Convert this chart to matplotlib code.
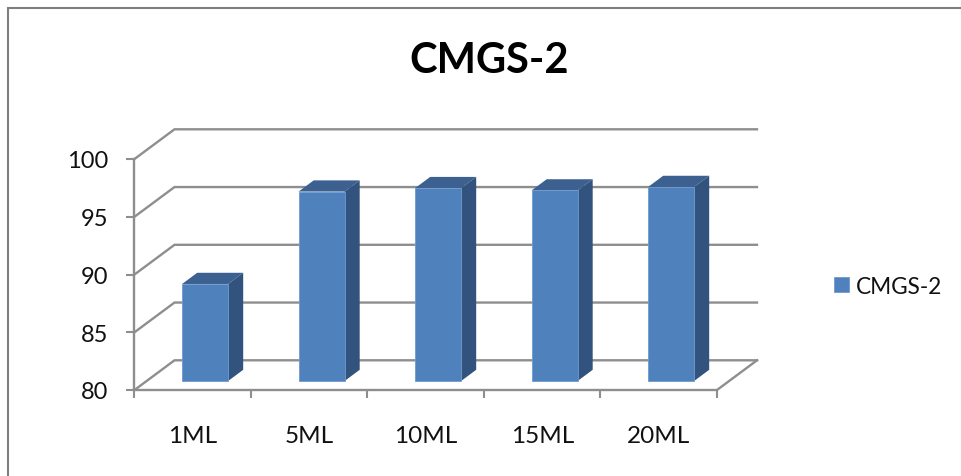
import matplotlib
matplotlib.use("Agg")
import matplotlib.pyplot as plt
from matplotlib.patches import Polygon, Patch
from matplotlib.lines import Line2D

# data
categories = ["1ML", "5ML", "10ML", "15ML", "20ML"]
values = [88.4, 96.4, 96.7, 96.5, 96.8]
yticks = [80, 85, 90, 95, 100]
series_name = "CMGS-2"

W, H = 962, 477
GREY = "#8e8e8e"
FRONT = "#4f81bd"
SIDE = "#31537d"
TOP = "#3c6090"
TXT = "#111111"

plt.rcParams["font.family"] = ["Lato", "DejaVu Sans"]

fig = plt.figure(figsize=(W / 100, H / 100), dpi=100)
# front plot area in pixels: x 135-717, y 160-391
ax = fig.add_axes([134.5 / W, 1 - 391 / H, (717 - 134.5) / W, (391 - 160) / H])
ax.set_xlim(-0.5, 4.5)
ax.set_ylim(80, 100)
ax.patch.set_alpha(0)

# depth of the fake 3d box, in data units
depth_x = 40 / 116.5
depth_y = 29.7 / 11.55

# walls
for t in yticks:
    ax.plot([-0.5, -0.5 + depth_x, 4.5 + depth_x],
            [t, t + depth_y, t + depth_y],
            color=GREY, lw=1.7, clip_on=False, zorder=1, solid_joinstyle="miter")
ax.plot([4.5, 4.5 + depth_x], [80, 80 + depth_y], color=GREY, lw=1.7, clip_on=False, zorder=1)

# bars
bar_w = 0.395
d0 = 0.303
d1 = 0.68
for i, v in enumerate(values):
    x0 = i - bar_w / 2 + d0 * depth_x + 0.002
    x1 = x0 + bar_w
    y0 = 80 + d0 * depth_y
    top = y0 + (v - 80)
    dx = (d1 - d0) * depth_x
    dy = (d1 - d0) * depth_y
    ax.add_patch(Polygon([(x0, top), (x1, top), (x1 + dx, top + dy), (x0 + dx, top + dy)],
                         closed=True, fc=TOP, ec="none", clip_on=False, zorder=3))
    ax.add_patch(Polygon([(x1, y0), (x1 + dx, y0 + dy), (x1 + dx, top + dy), (x1, top)],
                         closed=True, fc=SIDE, ec="none", clip_on=False, zorder=3))
    ax.bar(x0, top - y0, width=bar_w, bottom=y0, align="edge", color=FRONT,
           edgecolor="#6f9bd0", linewidth=0.6, clip_on=False, zorder=4)

# axes
for s in ["top", "right"]:
    ax.spines[s].set_visible(False)
for s in ["left", "bottom"]:
    ax.spines[s].set_color(GREY)
    ax.spines[s].set_linewidth(1.7)
ax.set_yticks(yticks)
ax.set_yticklabels([str(t) for t in yticks], fontsize=17, color=TXT)
ax.tick_params(axis="y", length=6, width=1.5, color=GREY, pad=13)
ax.set_xticks(range(len(categories)))
ax.set_xticklabels(categories, fontsize=17.5, color=TXT)
ax.tick_params(axis="x", which="major", length=0, pad=25)
ax.set_xticks([i - 0.5 for i in range(len(categories) + 1)], minor=True)
ax.tick_params(axis="x", which="minor", length=6, width=1.5, color=GREY)

# title and legend
fig.text(489 / W, 1 - 61 / H, series_name, fontsize=30, fontweight="bold", color="#000000",
         ha="center", va="center")
fig.legend(handles=[Patch(fc=FRONT, ec="#6f9bd0", lw=0.6, label=series_name)],
           loc="center left", bbox_to_anchor=(827 / W, 1 - 287 / H), frameon=False,
           fontsize=16.3, labelcolor=TXT, handlelength=0.66, handleheight=0.65,
           handletextpad=0.31, borderpad=0.3, borderaxespad=0)

# outer chart border (only top and left visible in the crop)
fig.add_artist(Line2D([8 / W, 8 / W, 1], [0, 1 - 9 / H, 1 - 9 / H], color="#7f7f7f", lw=1.5,
                      transform=fig.transFigure, solid_joinstyle="miter"))

fig.savefig("out.png", dpi=100)
